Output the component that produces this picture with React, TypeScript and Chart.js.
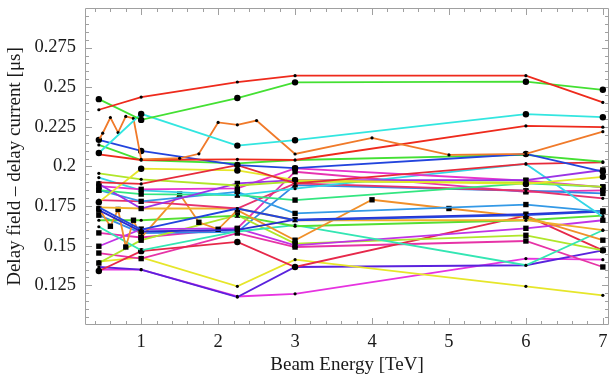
import { useEffect, useRef } from 'react';
import { Chart, registerables } from 'chart.js';

Chart.register(...registerables);

// x positions (beam energy, TeV)
const X_MAIN = [0.45, 1, 2.25, 3, 6, 7];
const X_ORANGE_A = [0.45, 0.5, 0.6, 0.7, 0.8, 0.9, 1, 1.5, 1.75, 2, 2.25, 2.5, 3, 4, 5, 6, 7];
const X_ORANGE_B = [0.45, 0.6, 0.7, 0.8, 0.9, 1, 1.5, 1.75, 2, 2.25, 3, 4, 5, 6, 7];

// series values (delay field - delay current, µs)
const S01 = [0.2358, 0.2438, 0.2533, 0.2573, 0.2573, 0.2404];
const S02 = [0.2425, 0.2294, 0.2432, 0.2531, 0.2535, 0.2484];
const S03 = [0.2085, 0.2332, 0.2132, 0.2166, 0.233, 0.2311];
const S04 = [0.2168, 0.221, 0.2309, 0.2214, 0.2316, 0.2303, 0.2045, 0.2052, 0.208, 0.2278, 0.2263, 0.229, 0.2079, 0.218, 0.2073, 0.208, 0.222];
const S05 = [0.2077, 0.2041, 0.2045, 0.2041, 0.2256, 0.2248];
const S06 = [0.2168, 0.2098, 0.2009, 0.199, 0.2079, 0.1968];
const S07 = [0.2136, 0.2041, 0.202, 0.2041, 0.2073, 0.203];
const S08 = [0.19, 0.189, 0.2009, 0.1893, 0.2016, 0.2026];
const S09 = [0.1775, 0.1986, 0.1975, 0.1914, 0.189, 0.1935];
const S10 = [0.1957, 0.1919, 0.188, 0.1905, 0.19, 0.1872];
const S11 = [0.189, 0.1735, 0.1893, 0.1914, 0.1914, 0.1978];
const S12 = [0.1876, 0.1856, 0.1862, 0.1988, 0.191, 0.187];
const S13 = [0.193, 0.185, 0.1819, 0.186, 0.2016, 0.1683];
const S14 = [0.1851, 0.1826, 0.1819, 0.1788, 0.1893, 0.1872];
const S15 = [0.1851, 0.178, 0.184, 0.1704, 0.176, 0.1715];
const S16 = [0.1742, 0.1602, 0.1735, 0.1661, 0.1693, 0.1715];
const S17 = [0.1725, 0.159, 0.16, 0.1665, 0.1699, 0.172];
const S18 = [0.1788, 0.178, 0.1735, 0.1893, 0.1847, 0.1799];
const S19 = [0.1742, 0.1735, 0.1735, 0.1661, 0.1661, 0.1598];
const S20 = [0.1735, 0.1623, 0.1729, 0.1492, 0.1661, 0.1552, 0.1826, 0.1648, 0.1604, 0.1725, 0.1535, 0.179, 0.1735, 0.1682, 0.1535];
const S21 = [0.1661, 0.1661, 0.169, 0.1623, 0.1661, 0.169];
const S22 = [0.162, 0.1471, 0.159, 0.163, 0.1377, 0.1598];
const S23 = [0.1497, 0.1605, 0.1609, 0.1503, 0.161, 0.1661];
const S24 = [0.1391, 0.1535, 0.1693, 0.1514, 0.1566, 0.1471];
const S25 = [0.1341, 0.1466, 0.1524, 0.1366, 0.169, 0.1471];
const S26 = [0.1454, 0.1419, 0.158, 0.1492, 0.153, 0.1366];
const S27 = [0.14, 0.1427, 0.1244, 0.1412, 0.1244, 0.1187];
const S28 = [0.1366, 0.1349, 0.1176, 0.1366, 0.1377, 0.1471];
const S29 = [0.135, 0.1349, 0.118, 0.1197, 0.1419, 0.1412];
const S30 = [0.1693, 0.158, 0.1587, 0.1883, 0.1847, 0.183];
const S31 = [0.1581, 0.1552, 0.1609, 0.1967, 0.184, 0.185];

const SERIES_X = [X_MAIN, X_MAIN, X_MAIN, X_ORANGE_A, X_MAIN, X_MAIN, X_MAIN, X_MAIN, X_MAIN, X_MAIN, X_MAIN, X_MAIN, X_MAIN, X_MAIN, X_MAIN, X_MAIN, X_MAIN, X_MAIN, X_MAIN, X_ORANGE_B, X_MAIN, X_MAIN, X_MAIN, X_MAIN, X_MAIN, X_MAIN, X_MAIN, X_MAIN, X_MAIN, X_MAIN, X_MAIN];
const SERIES_Y = [S01, S02, S03, S04, S05, S06, S07, S08, S09, S10, S11, S12, S13, S14, S15, S16, S17, S18, S19, S20, S21, S22, S23, S24, S25, S26, S27, S28, S29, S30, S31];
const SERIES_COLORS = [
  '#ee2a1c', '#44e033', '#33e6e0', '#f07a2a', '#ee2a1c', '#2244dd', '#44e033', '#e62a3a',
  '#e6e62a', '#b0e62a', '#9a33e6', '#e633cc', '#33d6e6', '#33e680', '#3399e6', '#2244dd',
  '#2a2acc', '#e6336e', '#f0b02a', '#f0902a', '#55e033', '#33e6b3', '#c033e6', '#b0e62a',
  '#e6284a', '#e633a6', '#e6e62a', '#5a22dd', '#e633e0', '#3388e6', '#e633b0',
];
// d = small dot, c = big circle, s = square
const SERIES_MARKERS = ['d', 'c', 'c', 'd', 'd', 'c', 'd', 'd', 'c', 'd', 's', 's', 'd', 's', 's', 'd', 's', 'd', 'd', 's', 'd', 'd', 's', 's', 'c', 's', 'd', 'd', 'd', 's', 's'];

const X_TICKS = [1, 2, 3, 4, 5, 6, 7];
const Y_TICKS = [0.125, 0.15, 0.175, 0.2, 0.225, 0.25, 0.275];
const Y_TICK_LABELS = ['0.125', '0.15', '0.175', '0.2', '0.225', '0.25', '0.275'];

const FONT = "'Liberation Serif', 'DejaVu Serif', serif";

const framePlugin = {
  id: 'mmaFrame',
  beforeDatasetsDraw(chart: any) {
    const { ctx, chartArea: a, scales } = chart;
    const xs = scales.x;
    const ys = scales.y;
    ctx.save();
    ctx.strokeStyle = '#a0a0a0';
    ctx.lineWidth = 1;
    ctx.beginPath();
    ctx.rect(a.left + 0.5, a.top + 0.5, a.right - a.left - 1, a.bottom - a.top - 1);
    ctx.stroke();
    ctx.beginPath();
    for (let i = 0; i <= 40; i++) {
      const v = 0.1 + i * 0.005;
      const len = i % 5 === 0 ? 7 : 4;
      const p = Math.round(ys.getPixelForValue(v)) + 0.5;
      if (p < a.top + 1 || p > a.bottom - 1) continue;
      ctx.moveTo(a.left, p);
      ctx.lineTo(a.left + len, p);
      ctx.moveTo(a.right, p);
      ctx.lineTo(a.right - len, p);
    }
    for (let i = 0; i < 40; i++) {
      const v = 0.4 + i * 0.2;
      if (v > xs.max) break;
      const major = Math.abs(v - Math.round(v)) < 1e-6;
      const len = major ? 7 : 4;
      const p = Math.round(xs.getPixelForValue(v)) + 0.5;
      ctx.moveTo(p, a.bottom);
      ctx.lineTo(p, a.bottom - len);
      ctx.moveTo(p, a.top);
      ctx.lineTo(p, a.top + len);
    }
    ctx.stroke();
    ctx.restore();
  },
};

export default function App() {
  const ref = useRef<HTMLCanvasElement | null>(null);

  useEffect(() => {
    if (!ref.current) return;
    const datasets = SERIES_Y.map((ys, i) => {
      const m = SERIES_MARKERS[i];
      return {
        data: ys.map((y, j) => ({ x: SERIES_X[i][j], y })),
        borderColor: SERIES_COLORS[i],
        borderWidth: 1.8,
        backgroundColor: '#000',
        pointBackgroundColor: '#000',
        pointBorderColor: '#000',
        pointBorderWidth: 0,
        pointStyle: m === 's' ? 'rect' : 'circle',
        pointRadius: m === 'd' ? 1.6 : m === 'c' ? 3.2 : 3.8,
        pointHoverRadius: 0,
        tension: 0,
        fill: false,
      };
    });

    const chart = new Chart(ref.current, {
      type: 'line',
      data: { datasets },
      plugins: [framePlugin],
      options: {
        animation: false,
        responsive: false,
        events: [],
        layout: { padding: { top: 8, right: 4, left: 0, bottom: 0 } },
        plugins: { legend: { display: false }, tooltip: { enabled: false } },
        scales: {
          x: {
            type: 'linear',
            min: 0.27,
            max: 7.08,
            grid: { display: false, drawTicks: false },
            border: { display: false },
            afterBuildTicks: (s: any) => {
              s.ticks = X_TICKS.map((v) => ({ value: v }));
            },
            afterFit: (s: any) => {
              s.height = 53;
              s.paddingLeft = 0;
              s.paddingRight = 0;
            },
            ticks: {
              padding: 6,
              color: '#1a1a1a',
              font: { family: FONT, size: 18.5 },
              maxRotation: 0,
              autoSkip: false,
              callback: (v: any) => String(v),
            },
            title: {
              display: true,
              text: 'Beam Energy [TeV]',
              color: '#1a1a1a',
              font: { family: FONT, size: 19 },
              padding: { top: 0, bottom: 2 },
            },
          },
          y: {
            type: 'linear',
            min: 0.1,
            max: 0.3,
            grid: { display: false, drawTicks: false },
            border: { display: false },
            afterBuildTicks: (s: any) => {
              s.ticks = Y_TICKS.map((v) => ({ value: v }));
            },
            afterFit: (s: any) => {
              s.width = 85;
              s.paddingTop = 0;
              s.paddingBottom = 0;
            },
            ticks: {
              padding: 9,
              color: '#1a1a1a',
              font: { family: FONT, size: 18.5 },
              autoSkip: false,
              callback: (v: any) => {
                const k = Y_TICKS.findIndex((t) => Math.abs(t - v) < 1e-9);
                return k >= 0 ? Y_TICK_LABELS[k] : '';
              },
            },
            title: {
              display: true,
              text: 'Delay field \u2013 delay current [\u03bcs]',
              color: '#1a1a1a',
              font: { family: FONT, size: 19 },
              padding: { top: 4, bottom: 0 },
            },
          },
        },
      },
    });
    return () => chart.destroy();
  }, []);

  return (
    <div style={{ position: 'fixed', left: 0, top: 0, width: 613, height: 378, background: '#fff' }}>
      <canvas ref={ref} width={613} height={378} style={{ display: 'block' }} />
    </div>
  );
}
